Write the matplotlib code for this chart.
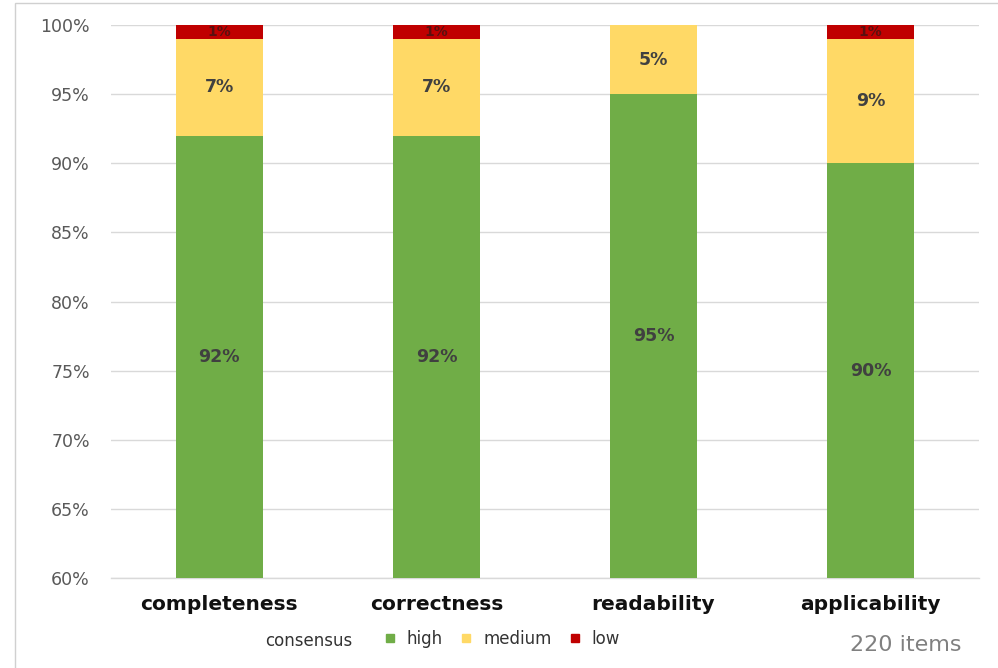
import matplotlib.pyplot as plt
from matplotlib.lines import Line2D
from matplotlib.patches import Rectangle
import numpy as np

categories = ["completeness", "correctness", "readability", "applicability"]
high = [92, 92, 95, 90]
medium = [7, 7, 5, 9]
low = [1, 1, 0, 1]
yticks = [60, 65, 70, 75, 80, 85, 90, 95, 100]

green = "#70AD47"
yellow = "#FFD966"
red = "#C00000"
lab_col = "#404040"

fig = plt.figure(figsize=(9.98, 6.68), dpi=100)
ax = fig.add_axes([0.111, 0.1347, 0.870, 0.8279])

x = np.arange(len(categories))
w = 0.40
ax.bar(x, high, w, color=green, zorder=2)
ax.bar(x, medium, w, bottom=high, color=yellow, zorder=2)
bot = [h + m for h, m in zip(high, medium)]
ax.bar(x, low, w, bottom=bot, color=red, zorder=2)

for i in range(len(categories)):
    ax.text(x[i], 60 + (high[i] - 60) / 2, f"{high[i]}%", ha="center", va="center",
            fontsize=12.5, fontweight="bold", color=lab_col, zorder=3)
    ax.text(x[i], high[i] + medium[i] / 2, f"{medium[i]}%", ha="center", va="center",
            fontsize=12.5, fontweight="bold", color=lab_col, zorder=3)
    if low[i] > 0:
        ax.text(x[i], bot[i] + low[i] / 2, f"{low[i]}%", ha="center", va="center",
                fontsize=10, fontweight="bold", color="#5a1010", zorder=3)

ax.set_ylim(60, 100)
ax.set_xlim(-0.5, 3.5)
ax.set_yticks(yticks)
ax.set_yticklabels([f"{t}%" for t in yticks], fontsize=12.5, color="#595959")
ax.set_xticks(x)
ax.set_xticklabels(categories, fontsize=14.5, fontweight="bold", color="#111111")
ax.tick_params(axis="both", length=0)
ax.tick_params(axis="y", pad=15)
ax.tick_params(axis="x", pad=12)
ax.yaxis.grid(True, color="#d9d9d9", linewidth=1, zorder=0)
ax.axhline(60, color="#d9d9d9", linewidth=1, zorder=1, clip_on=False)
ax.set_axisbelow(True)
for s in ax.spines.values():
    s.set_visible(False)

# frame around the chart area
fig.patches.append(Rectangle((15 / 998, -0.01), 1.0, 1 - 3 / 668 + 0.01, transform=fig.transFigure,
                             fill=False, edgecolor="#d0d0d0", linewidth=1))

fig.text(0.266, 0.040, "consensus", fontsize=12, color="#333333", ha="left", va="center")
handles = [Line2D([], [], marker="s", linestyle="none", markersize=6, color=c)
           for c in (green, yellow, red)]
leg = fig.legend(handles, ["high", "medium", "low"], loc="center left",
                 bbox_to_anchor=(0.366, 0.044), ncol=3, frameon=False, fontsize=12,
                 handletextpad=0.4, columnspacing=0.8, handlelength=1.2)
for t in leg.get_texts():
    t.set_color("#333333")

fig.text(0.852, 0.034, "220 items", fontsize=16, color="#808080", ha="left", va="center")

fig.savefig("out.png", dpi=100)
